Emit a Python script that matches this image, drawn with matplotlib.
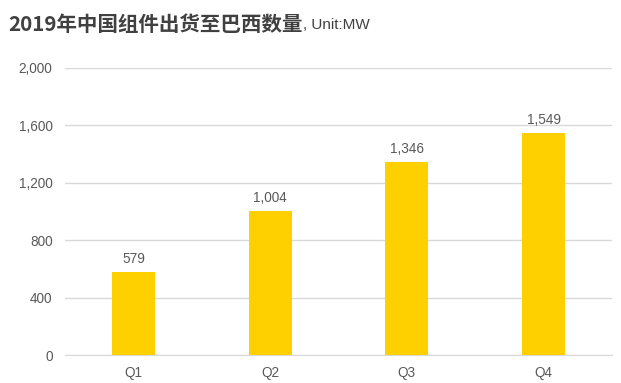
import matplotlib
matplotlib.use("Agg")
import matplotlib.pyplot as plt

plt.rcParams['font.family'] = ['Noto Sans CJK SC', 'DejaVu Sans']

quarters = ['Q1', 'Q2', 'Q3', 'Q4']
shipments = [579, 1004, 1346, 1549]
y_ticks = [0, 400, 800, 1200, 1600, 2000]

latin = ['Liberation Sans', 'DejaVu Sans']

fig = plt.figure(figsize=(6.21, 3.83), dpi=100)
ax = fig.add_axes([0.1047, 0.0731, 0.8808, 0.7494])

x = range(len(quarters))
ax.bar(x, shipments, width=0.315, color='#FFD000', zorder=3)
for i, v in zip(x, shipments):
    ax.text(i, v + 40, f"{v:,}", ha='center', va='bottom', fontsize=9.8, color='#595959',
            family=latin)

ax.set_xlim(-0.5, len(quarters) - 0.5)
ax.set_ylim(0, 2000)
ax.set_yticks(y_ticks)
ax.set_yticklabels([f"{t:,}" for t in y_ticks], family=latin)
ax.set_xticks(list(x))
ax.set_xticklabels(quarters, family=latin)
ax.tick_params(axis='both', length=0, labelsize=9.8, colors='#595959')
ax.tick_params(axis='y', pad=9)
ax.tick_params(axis='x', pad=8)
ax.grid(axis='y', color='#d9d9d9', linewidth=1, zorder=0)
for s in ['top', 'right', 'left']:
    ax.spines[s].set_visible(False)
ax.spines['bottom'].set_color('#d9d9d9')

# 제목: 중국어 부분(굵게) + 단위(작게)
title = fig.text(0.014, 0.937, '2019年中国组件出货至巴西数量', fontsize=14.8, fontweight='bold',
                 color='#404040', va='center')
fig.canvas.draw()
ax.annotate(', Unit:MW', xy=(1, 0.12), xycoords=title, ha='left', va='bottom',
            fontsize=11, color='#404040', family=latin)

fig.savefig('out.png', dpi=100)
